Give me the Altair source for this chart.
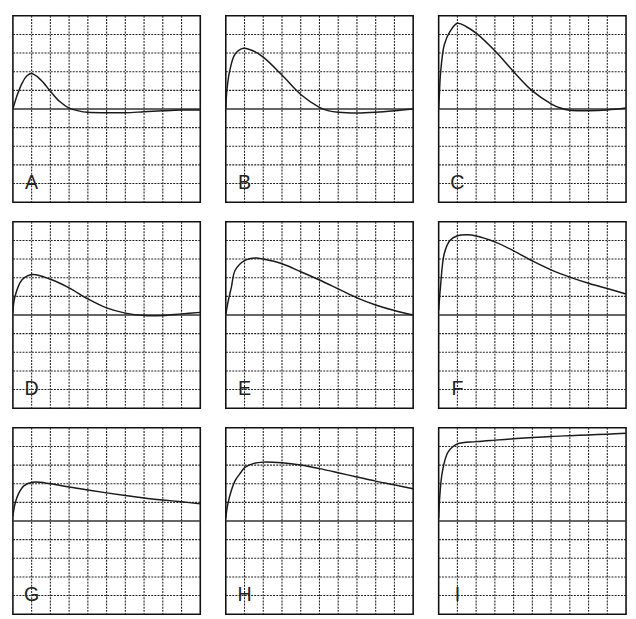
import altair as alt
import pandas as pd

# Panel letters (row-major order)
labels = ["A", "B", "C", "D", "E", "F", "G", "H", "I"]

# Trace values (x in divisions 0-10, y in divisions -5..5)
a_x = [0, 0.1, 0.25, 0.5, 0.75, 1.0, 1.5, 2.0, 2.5, 3.0, 3.5, 4, 5, 6, 7, 8, 9, 10]
a_y = [0, 0.35, 0.8, 1.4, 1.78, 1.9, 1.55, 0.95, 0.4, 0.05, -0.1, -0.18, -0.2, -0.2, -0.15, -0.1, -0.06, -0.05]

b_x = [0, 0.05, 0.2, 0.5, 0.95, 1.5, 2, 3, 4, 5, 5.5, 6, 7, 8, 9, 10]
b_y = [0, 0.9, 2.0, 2.95, 3.26, 3.1, 2.78, 1.82, 0.78, 0.09, -0.1, -0.18, -0.22, -0.18, -0.1, 0]

c_x = [0, 0.03, 0.1, 0.3, 0.6, 1.0, 1.5, 2, 3, 4, 5, 6, 6.5, 7, 8, 9, 10]
c_y = [0, 0.6, 1.9, 3.45, 4.15, 4.6, 4.4, 4.07, 3.12, 2.0, 0.97, 0.28, 0.05, -0.07, -0.09, -0.05, 0.05]

d_x = [0, 0.1, 0.5, 1.05, 2, 3, 4, 5, 6, 7, 8, 9, 10]
d_y = [0.15, 0.95, 1.9, 2.17, 1.92, 1.46, 0.86, 0.38, 0.1, -0.03, -0.03, 0.06, 0.14]

e_x = [0, 0.1, 0.3, 0.5, 1.0, 1.6, 2, 3, 4, 5, 6, 7, 8, 9, 10]
e_y = [0, 0.6, 1.5, 2.4, 2.92, 3.06, 3.0, 2.75, 2.32, 1.88, 1.4, 0.92, 0.54, 0.24, 0]

f_x = [0, 0.1, 0.3, 0.6, 1.0, 1.5, 2, 3, 4, 5, 6, 7, 8, 9, 10]
f_y = [0.25, 1.55, 3.3, 4.0, 4.25, 4.3, 4.24, 3.92, 3.44, 2.9, 2.42, 2.03, 1.7, 1.42, 1.13]

g_x = [0, 0.1, 0.3, 0.6, 1.05, 2, 3, 4, 5, 6, 7, 8, 9, 10]
g_y = [0.26, 0.87, 1.47, 1.9, 2.08, 2.0, 1.82, 1.66, 1.51, 1.37, 1.24, 1.13, 1.03, 0.92]

h_x = [0, 0.1, 0.3, 0.5, 0.8, 1.0, 1.5, 2, 3, 4, 5, 6, 7, 8, 9, 10]
h_y = [0.17, 0.87, 1.65, 2.17, 2.6, 2.86, 3.09, 3.16, 3.12, 3.0, 2.81, 2.59, 2.36, 2.14, 1.94, 1.73]

i_x = [0, 0.02, 0.05, 0.2, 0.5, 1, 2, 3, 4, 5, 6, 7, 8, 9, 10]
i_y = [0.14, 0.6, 1.2, 2.66, 3.7, 4.14, 4.26, 4.34, 4.41, 4.48, 4.54, 4.58, 4.62, 4.66, 4.71]

series_x = [a_x, b_x, c_x, d_x, e_x, f_x, g_x, h_x, i_x]
series_y = [a_y, b_y, c_y, d_y, e_y, f_y, g_y, h_y, i_y]

# Graticule positions
grid_v = [1, 2, 3, 4, 5, 6, 7, 8, 9]
grid_h = [-4, -3, -2, -1, 1, 2, 3, 4]

xs = alt.Scale(domain=[0, 10], nice=False, zero=False)
ys = alt.Scale(domain=[-5, 5], nice=False, zero=False)

PW = 191
PH = 190


def panel(label, px, py):
    vg = alt.Chart(pd.DataFrame({"gx": grid_v})).mark_rule(
        color="#222", strokeWidth=1.1, strokeDash=[2, 1.2]
    ).encode(x=alt.X("gx:Q", scale=xs, axis=None))
    hg = alt.Chart(pd.DataFrame({"gy": grid_h})).mark_rule(
        color="#222", strokeWidth=1.1, strokeDash=[2, 1.2]
    ).encode(y=alt.Y("gy:Q", scale=ys, axis=None))
    center = alt.Chart(pd.DataFrame({"gy": [0]})).mark_rule(
        color="#333", strokeWidth=1.7
    ).encode(y=alt.Y("gy:Q", scale=ys, axis=None))
    curve = alt.Chart(pd.DataFrame({"x": px, "y": py})).mark_line(
        color="#1a1a1a", strokeWidth=1.5, interpolate="catmull-rom", clip=True
    ).encode(
        x=alt.X("x:Q", scale=xs, axis=None),
        y=alt.Y("y:Q", scale=ys, axis=None),
    )
    txt = alt.Chart(pd.DataFrame({"tx": [1], "ty": [-4], "t": [label]})).mark_text(
        font="Liberation Sans", fontSize=20, fontWeight="normal",
        color="#222", align="center", baseline="middle"
    ).encode(
        x=alt.X("tx:Q", scale=xs, axis=None),
        y=alt.Y("ty:Q", scale=ys, axis=None),
        text="t:N",
    )
    return alt.layer(vg, hg, center, curve, txt).properties(width=PW, height=PH)


panels = [panel(labels[k], series_x[k], series_y[k]) for k in range(9)]
rows = [alt.hconcat(*panels[r * 3:(r + 1) * 3], spacing=22) for r in range(3)]

chart = alt.vconcat(*rows, spacing=16).properties(
    padding={"left": 3, "top": 0, "right": 0, "bottom": 0},
    background="white",
).configure_view(stroke="#111", strokeWidth=1.6)

chart.save("out.html", embed_options={"renderer": "svg", "actions": False})
